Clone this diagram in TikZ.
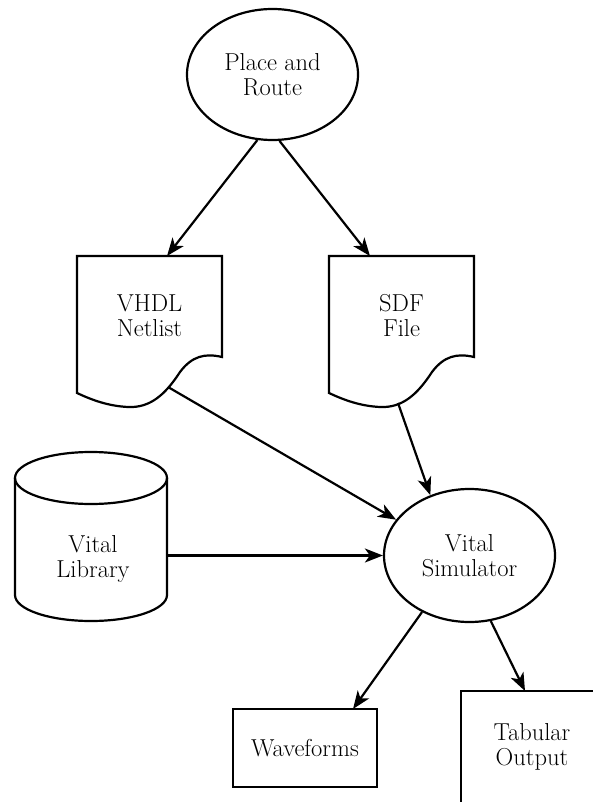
\documentclass[tikz,border=0pt]{standalone}
\usetikzlibrary{arrows.meta,shapes.geometric}
\begin{document}
\begin{tikzpicture}[x=1pt,y=-1pt,line width=2.2pt,
  lbl/.style={font=\fontsize{24.5}{25}\selectfont, align=center, inner sep=0pt},
  arr/.style={-{Stealth[length=18pt,width=14pt,inset=5pt]}, line width=2.2pt},
  oval/.style={draw, ellipse, lbl, line width=2.2pt},
  boxnode/.style={draw, rectangle, lbl, line width=2.2pt}]
\useasboundingbox (0,0) rectangle (592,802);
% ovals
\node[oval, minimum width=171pt, minimum height=131pt] (pr) at (272.5,74.5) {Place and\\Route};
\node[oval, minimum width=171pt, minimum height=133pt] (sim) at (469.5,555.5) {Vital\\Simulator};
% documents
\draw (77,256) -- (222,256) -- (222,357) .. controls (205,353) and (192,356) .. (180,372)
  .. controls (165,395) and (150,408) .. (128,407) .. controls (108,406) and (92,400) .. (77,393) -- cycle;
\draw[xshift=252pt] (77,256) -- (222,256) -- (222,357) .. controls (205,353) and (192,356) .. (180,372)
  .. controls (165,395) and (150,408) .. (128,407) .. controls (108,406) and (92,400) .. (77,393) -- cycle;
\node[lbl] (vhdl) at (149.5,316) {VHDL\\Netlist};
\node[lbl] (sdf) at (401.5,316) {SDF\\File};
% cylinder
\draw (15,478) -- (15,595) arc[start angle=180,end angle=360,x radius=76pt,y radius=26pt] -- (167,478);
\draw (91,478) ellipse [x radius=76pt, y radius=26pt];
\node[lbl] (lib) at (93,559) {Vital\\Library};
% boxes
\node[boxnode, minimum width=144pt, minimum height=78pt] (wave) at (305,748) {Waveforms};
\node[boxnode, minimum width=142pt, minimum height=112pt] (tab) at (532,747) {Tabular\\Output};
% connector ends
\coordinate (vtop) at (167,256);
\coordinate (stop) at (370,256);
\coordinate (vwave) at (168,387);
\coordinate (swave) at (398,403);
\coordinate (lright) at (167,555.5);
\coordinate (wtop) at (353,709);
\coordinate (ttop) at (525,691);
% connectors
\draw[arr] (pr.257.5) -- (vtop);
\draw[arr] (pr.276) -- (stop);
\draw[arr] (vwave) -- (sim.154.5);
\draw[arr] (swave) -- (sim.123);
\draw[arr] (lright) -- (sim.west);
\draw[arr] (sim.230.5) -- (wtop);
\draw[arr] (sim.288) -- (ttop);
\end{tikzpicture}
\end{document}
